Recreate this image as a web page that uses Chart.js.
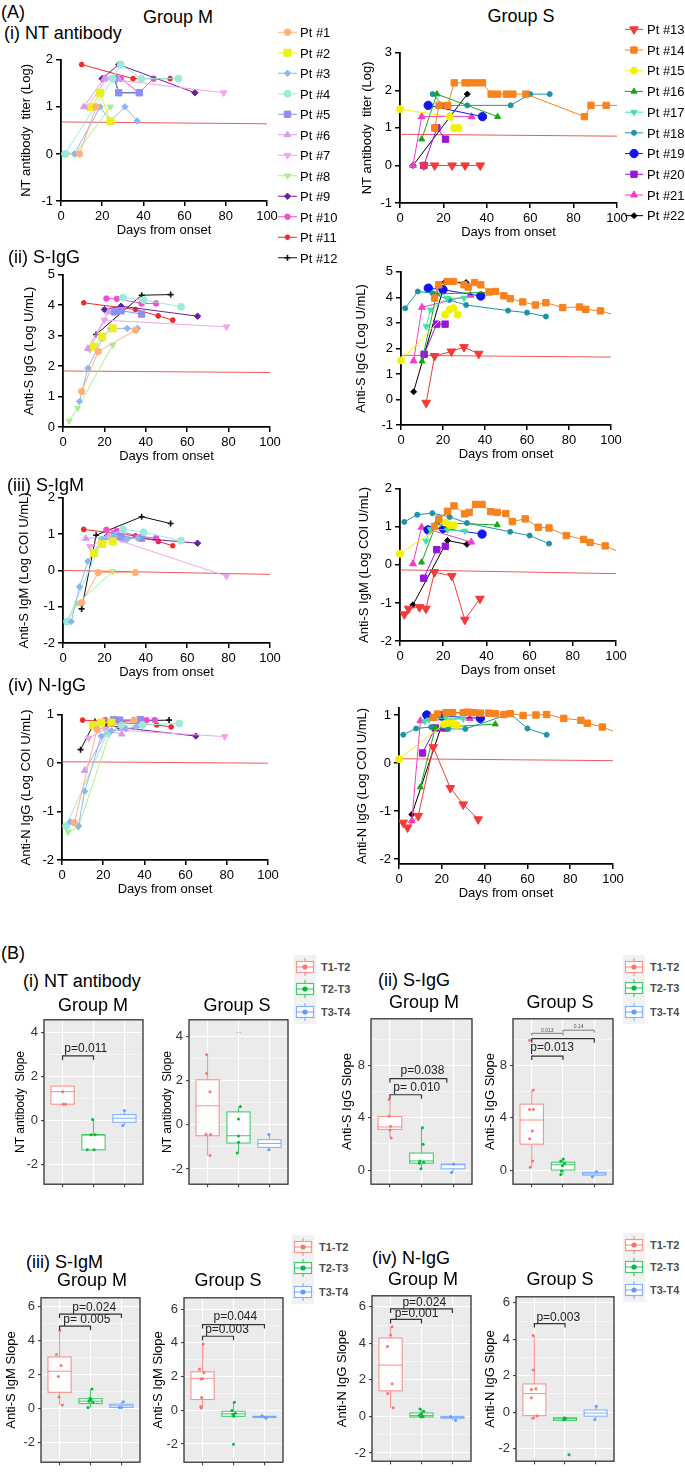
<!DOCTYPE html>
<html>
<head>
<meta charset="utf-8">
<title>Antibody kinetics, Group M / Group S</title>
<script src="https://cdn.jsdelivr.net/npm/chart.js@4.4.1/dist/chart.umd.min.js"></script>
<style>
  html, body { margin: 0; padding: 0; background: #fff; }
  #page { position: relative; width: 685px; height: 1475px; overflow: hidden;
          font-family: "Liberation Sans", Arial, Helvetica, sans-serif; color: #000; }
  .holder { position: absolute; }
  .txt { position: absolute; white-space: nowrap; line-height: 1; }
</style>
</head>
<body>
<div id="page"></div>
<script>
// ---------- (A) time courses: [day, value] per patient ----------
const namesM = ['Pt #1', 'Pt #2', 'Pt #3', 'Pt #4', 'Pt #5', 'Pt #6', 'Pt #7', 'Pt #8', 'Pt #9', 'Pt #10', 'Pt #11', 'Pt #12'];
const namesS = ['Pt #13', 'Pt #14', 'Pt #15', 'Pt #16', 'Pt #17', 'Pt #18', 'Pt #19', 'Pt #20', 'Pt #21', 'Pt #22'];

const ntM = [
  [[9, 0], [17, 1]],
  [[15, 1], [19, 1.3], [24, 0.7]],
  [[6.5, 0], [19, 1], [24, 0.7], [31, 1], [37, 0.7]],
  [[2, 0], [25, 1.6], [29, 1.9], [39, 1.6], [57, 1.6]],
  [[26, 1.6], [28, 1.3], [38, 1.3]],
  [[11, 1], [21, 1.6], [28, 1.6]],
  [[13, 1], [22, 1.6], [79, 1.3]],
  [[3, 0], [7, 0], [24, 1]],
  [[20, 1.6], [28, 1.9], [65, 1.3]],
  [[21, 1.6], [29, 1.6], [38, 1.3], [45, 1.6]],
  [[10, 1.9], [35, 1.6], [53, 1.6]],
  [[20, 1.6], [26, 1.6], [28, 1.3], [38, 1.3]]
];
const ntS = [
  [[11, 0], [16, 0], [24, 0], [30, 0], [37, 0]],
  [[16, 1], [18, 1.6], [22, 1.6], [25, 2.2], [30, 2.2], [32, 2.2], [35, 2.2], [38, 2.2], [42, 1.9], [45, 1.9], [49, 1.9], [52, 1.9], [58, 1.9], [85, 1.3], [88, 1.6], [95, 1.6], [105, 1.6]],
  [[0, 1.5], [23, 1.3], [25, 1], [27, 1]],
  [[10, 0.7], [17, 1.9], [45, 1.3]],
  [],
  [[15, 1.9], [20, 1.6], [31, 1.6], [51, 1.6], [60, 1.9], [69, 1.9]],
  [[13, 1.6], [38, 1.3]],
  [[11, 0], [17, 1], [21, 0.7]],
  [[6, 0], [10, 1.3], [33, 1.3]],
  [[6, 0], [31, 1.9]]
];
const sIgGM = [
  [[9, 1.17], [17, 2.48], [35, 3.18]],
  [[15, 2.64], [19, 2.97], [24, 3.24]],
  [[8, 0.84], [12, 1.93], [19, 2.91], [23, 3.24], [31, 3.24], [36, 3.24]],
  [[29, 4.25], [39, 4.17], [57, 3.95]],
  [[25, 3.78], [28, 3.82], [38, 3.71]],
  [[12, 2.58], [22, 3.78]],
  [[13, 2.55], [20, 3.51], [79, 3.29]],
  [[3, 0.2], [7, 0.62], [24, 2.69]],
  [[20, 3.86], [28, 3.97], [65, 3.64]],
  [[21, 4.22], [26, 4.21], [38, 4.06], [45, 4.06]],
  [[10, 4.08], [35, 3.86], [46, 3.65], [53, 3.51]],
  [[16, 3.04], [38, 4.33], [52, 4.35]]
];
const sIgGS = [
  [[12, -0.13], [16, 1.7], [24, 1.88], [30, 2.05], [37, 1.79]],
  [[16, 3.97], [18, 4.49], [22, 4.62], [25, 4.62], [30, 4.49], [32, 4.4], [35, 4.58], [38, 4.49], [42, 4.21], [45, 4.23], [49, 4.06], [52, 3.95], [58, 3.82], [64, 3.7], [69, 3.79], [77, 3.6], [85, 3.62], [88, 3.53], [95, 3.47], [104, 3.25]],
  [[0, 1.53], [21, 3.32], [23, 3.51], [25, 3.58], [27, 3.32]],
  [[10, 1.5], [17, 4.13], [45, 4.21]],
  [[12, 2.86], [14, 3.51], [22, 3.97], [30, 3.97]],
  [[2, 3.57], [8, 4.23], [15, 4.16], [23, 3.9], [31, 3.7], [51, 3.48], [60, 3.4], [69, 3.25]],
  [[13, 4.36], [20, 4.3], [38, 4.05]],
  [[11, 1.77], [17, 2.95], [21, 2.95]],
  [[6, 1.51], [10, 3.61], [33, 4.08]],
  [[6, 0.3], [21, 4.6], [31, 4.58]]
];
const sIgMM = [
  [[9, -0.89], [17, -0.06], [35, -0.06]],
  [[15, 0.48], [19, 0.73], [24, 0.8]],
  [[4, -1.41], [8, -0.45], [12, 0.25], [19, 0.86], [25, 0.95], [31, 0.86], [36, 0.89]],
  [[2, -1.41], [19, 0.85], [29, 1.13], [39, 1.05], [57, 0.82]],
  [[25, 0.98], [28, 0.93], [38, 0.89]],
  [[11, 0.88], [22, 0.93], [29, 0.84]],
  [[13, 0.66], [22, 0.92], [79, -0.16]],
  [[2, -1.41], [7, -0.91], [24, -0.03]],
  [[21, 0.93], [28, 0.93], [65, 0.75]],
  [[21, 1.12], [26, 1.09], [38, 0.93], [45, 0.89]],
  [[10, 1.13], [35, 0.95], [46, 0.8], [53, 0.68]],
  [[9, -1.06], [16, 0.97], [38, 1.48], [52, 1.29]]
];
const sIgMS = [
  [[2, -1.3], [4, -1.15], [9, -1.11], [12, -1.15], [16, -0.19], [24, -0.29], [30, -1.44], [37, -0.89]],
  [[16, 1.01], [18, 1.21], [22, 1.41], [25, 1.55], [30, 1.34], [32, 1.38], [35, 1.59], [38, 1.59], [42, 1.4], [45, 1.38], [49, 1.35], [52, 1.14], [58, 1.21], [64, 0.99], [69, 0.97], [77, 0.77], [85, 0.67], [88, 0.59], [95, 0.5], [104, 0.28]],
  [[0, 0.29], [21, 1.11], [23, 1.05], [25, 1.04]],
  [[10, 0.07], [17, 1.11], [45, 1.05]],
  [[12, 0.63], [14, 0.94], [22, 0.92], [30, 0.89]],
  [[2, 1.13], [8, 1.32], [15, 1.36], [23, 1.26], [31, 1.1], [51, 0.87], [60, 0.77], [69, 0.56]],
  [[13, 0.92], [20, 0.96], [38, 0.81]],
  [[11, -0.35], [17, 0.4], [21, 0.49]],
  [[6, 0.03], [10, 0.99], [33, 0.6]],
  [[6, -1.05], [22, 0.64], [31, 0.54]]
];
const nIgGM = [
  [[6, -1.23], [17, 0.7], [35, 0.89]],
  [[15, 0.79], [19, 0.84], [24, 0.84]],
  [[4, -1.21], [8, -1.3], [11, -0.58], [19, 0.56], [24, 0.67], [31, 0.71], [36, 0.75]],
  [[2, -1.3], [22, 0.62], [29, 0.78], [39, 0.79], [57, 0.82]],
  [[25, 0.9], [28, 0.89], [38, 0.9]],
  [[11, -0.15], [22, 0.67], [29, 0.6]],
  [[13, 0.52], [21, 0.7], [79, 0.55]],
  [[3, -1.42], [8, -1.32], [23, 0.6]],
  [[22, 0.78], [28, 0.74], [65, 0.56]],
  [[21, 0.89], [41, 0.89], [45, 0.89]],
  [[10, 0.89], [46, 0.79], [53, 0.75]],
  [[9, 0.28], [16, 0.86], [52, 0.89]]
];
const nIgGS = [
  [[2, -1.24], [4, -1.34], [9, -1.1], [16, 0.33], [24, -0.52], [30, -0.86], [37, -1.17]],
  [[16, 0.95], [18, 1.02], [22, 1.05], [25, 1.05], [30, 1.05], [32, 1.06], [35, 1.05], [38, 1.04], [42, 1.04], [45, 1.03], [49, 1.01], [52, 1.03], [58, 0.99], [64, 1.0], [69, 1.01], [77, 0.93], [85, 0.89], [88, 0.83], [95, 0.75], [104, 0.6]],
  [[0, 0.08], [21, 0.81], [23, 0.83], [25, 0.83], [27, 0.79]],
  [[10, -0.5], [17, 0.74], [45, 0.81]],
  [[12, 0.87], [14, 0.9], [22, 0.94], [30, 0.92]],
  [[2, 0.59], [8, 0.72], [15, 0.75], [23, 0.71], [31, 0.71], [52, 1.03], [60, 0.72], [69, 0.59]],
  [[13, 1.0], [20, 0.98], [38, 0.93]],
  [[11, 0.21], [17, 0.73], [21, 0.73]],
  [[6, -1.2], [10, 0.88], [33, 0.93]],
  [[6, -1.07], [22, 1.06], [31, 1.04]]
];

// cut-off lines: value at day 0 and day 100
const cutNT_M = [0.68, 0.64];
const cutNT_S = [0.83, 0.78];
const cutIgG_M = [1.84, 1.79];
const cutIgG_S = [1.73, 1.66];
const cutIgM_M = [0.0, -0.11];
const cutIgM_S = [-0.13, -0.23];
const cutN_M = [0.03, 0.0];
const cutN_S = [0.09, 0.05];

const dayTicks = [0, 20, 40, 60, 80, 100];
const ticksNT_M = [-1, 0, 1, 2];
const ticksNT_S = [-1, 0, 1, 2, 3];
const ticksIgG_M = [0, 1, 2, 3, 4, 5];
const ticksIgG_S = [-1, 0, 1, 2, 3, 4, 5];
const ticksIgM = [-2, -1, 0, 1, 2];
const ticksN = [-2, -1, 0, 1];

// ---------- (B) slopes ----------
const slopeGroups = ['T1-T2', 'T2-T3', 'T3-T4'];
// per interval: [whisker low, Q1, median, Q3, whisker high]
const statsNT_M = [[0.73, 0.73, 1.3, 1.55, 1.55], [-1.34, -1.34, -0.66, -0.66, 0.04], [-0.24, -0.09, 0.09, 0.26, 0.44]];
const statsNT_S = [[-1.39, -0.49, 0.87, 2.05, 3.19], [-1.27, -0.82, -0.49, 0.59, 0.84], [-1.13, -1.02, -0.84, -0.67, -0.44]];
const statsIgG_M = [[2.46, 3.11, 3.3, 4.1, 5.4], [0.1, 0.53, 0.7, 1.3, 3.23], [-0.19, 0.1, 0.41, 0.46, 0.46]];
const statsIgG_S = [[0.22, 1.98, 3.83, 5.04, 6.12], [-0.34, 0.0, 0.41, 0.6, 0.84], [-0.51, -0.39, -0.29, -0.19, -0.1]];
const statsIgM_M = [[0.22, 0.96, 2.2, 3.04, 4.6], [0.07, 0.3, 0.44, 0.59, 1.15], [0.07, 0.07, 0.17, 0.26, 0.41]];
const statsIgM_S = [[0.13, 0.64, 1.89, 2.28, 3.93], [-0.36, -0.36, -0.21, -0.06, 0.47], [-0.47, -0.43, -0.39, -0.36, -0.32]];
const statsN_M = [[0.48, 1.4, 2.81, 4.29, 4.9], [-0.03, -0.03, 0.05, 0.19, 0.41], [-0.21, -0.1, -0.05, 0.0, 0.0]];
const statsN_S = [[-0.38, -0.19, 1.02, 1.55, 4.21], [-0.45, -0.45, -0.36, -0.31, -0.31], [-0.41, -0.22, -0.05, 0.12, 0.33]];

// individual slopes: [horizontal jitter, value]
const dotsNT_M = [
  [[0, 1.3], [0.02, 0.73], [0.1, 0.73]],
  [[-0.03, 0.04], [-0.08, -0.66], [0.05, -0.66], [-0.2, -1.34], [0.02, -1.34]],
  [[0, 0.44], [-0.05, -0.24]]
];
const dotsNT_S = [
  [[-0.03, 3.19], [-0.03, 2.33], [0.08, 1.5], [-0.05, -0.44], [0.1, -0.44], [0.08, -1.39]],
  [[0.06, 0.84], [0, 0.27], [0, -0.5], [0, -0.79], [-0.04, -1.27]],
  [[-0.02, -0.44], [-0.02, -1.13]]
];
const dotsIgG_M = [
  [[-0.03, 5.4], [-0.03, 4.14], [0.02, 3.35], [0, 3.06], [0.04, 2.46]],
  [[0.03, 3.23], [0.05, 1.98], [-0.05, 0.7], [0.07, 0.6], [-0.07, 0.53], [-0.02, 0.1]],
  [[0.02, 0.46], [-0.05, -0.19]]
];
const dotsIgG_S = [
  [[0.05, 6.12], [-0.07, 4.63], [0.05, 4.63], [0.02, 2.99], [-0.07, 2.39], [0.03, 0.7], [-0.05, 0.22], [-0.07, 9.93]],
  [[0.01, 0.84], [-0.07, 0.7], [0.05, 0.53], [-0.02, 0.34], [-0.05, -0.07], [-0.07, -0.34]],
  [[0.07, -0.1], [-0.06, -0.51]]
];
const dotsIgM_M = [
  [[0.01, 4.6], [-0.1, 3.19], [0.05, 2.54], [-0.04, 1.89], [-0.02, 0.69], [0.09, 0.22]],
  [[0.05, 1.15], [-0.02, 0.59], [0.02, 0.52], [-0.05, 0.44], [0.08, 0.37], [-0.08, 0.07]],
  [[0.06, 0.41], [-0.07, 0.07], [0, 0.07]]
];
const dotsIgM_S = [
  [[0.02, 3.93], [-0.1, 2.43], [0.05, 2.22], [-0.05, 1.85], [0, 1.87], [-0.03, 0.75], [-0.06, 0.22], [-0.04, 0.13]],
  [[0.03, 0.47], [-0.05, -0.02], [0.06, -0.17], [-0.02, -0.24], [0.01, -0.36], [0, -2.02]],
  [[-0.08, -0.32], [0.05, -0.47]]
];
const dotsN_M = [
  [[0.05, 4.9], [0, 4.45], [-0.1, 3.83], [0.05, 1.79], [-0.09, 1.26], [0.08, 0.48]],
  [[-0.05, 0.41], [0.07, 0.28], [0, 0.14], [-0.07, 0.07], [0.05, 0.0], [-0.01, -0.03]],
  [[-0.06, 0.0], [0.1, -0.21]]
];
const dotsN_S = [
  [[-0.04, 4.21], [-0.04, 2.31], [-0.1, 1.24], [0.05, 1.29], [-0.1, 0.79], [0.09, -0.19], [-0.05, -0.34]],
  [[-0.02, -0.31], [0.02, -0.36], [-0.04, -0.41], [0.13, -2.34]],
  [[0.02, 0.33], [-0.03, -0.41]]
];

// significance brackets: [from, to, height, label, label x, label y]
const brkNT_M = [[1, 2, 2.92, 'p=0.011', 1.75, 3.23]];
const brkNT_S = [];
const brkIgG_M = [[1, 2, 5.76, 'p= 0.010', 1.85, 6.31], [1, 2.8, 6.99, 'p=0.038', 2.03, 7.57]];
const brkIgG_S = [[1, 2, 8.72, 'p=0.013', 1.65, 9.33], [1, 3, 10.05, '', 0, 0]];
const brkIgM_M = [[1, 2, 4.85, 'p= 0.005', 1.88, 5.22], [1, 3, 5.56, 'p=0.024', 2.12, 5.96]];
const brkIgM_S = [[1, 2, 4.39, 'p=0.003', 1.79, 4.8], [1, 3, 5.08, 'p=0.044', 2.06, 5.55]];
const brkN_M = [[1, 2, 5.31, 'p=0.001', 1.84, 5.62], [1, 3, 5.88, 'p=0.024', 2.09, 6.22]];
const brkN_S = [[1, 2, 4.86, 'p=0.003', 1.78, 5.17]];
const tinyIgG_S = [[1, 2, 10.46, '0.013', 1.5, 10.7], [2, 3, 10.7, '0.14', 2.5, 10.94]];
const tinyNT_S = [[2, 2, 4.19, '- -', 2.0, 4.19]];

// ---------- styles ----------
const stylesM = [
  { c: '#FDB07A', s: 'circle', r: 3.2, rot: 0 },
  { c: '#E9F01E', s: 'rect', r: 5, rot: 0 },
  { c: '#8CB6F2', s: 'rectRot', r: 3.2, rot: 0 },
  { c: '#9CEBDA', s: 'circle', r: 3.5, rot: 0 },
  { c: '#8E8EF2', s: 'rect', r: 4.5, rot: 0 },
  { c: '#D69BF2', s: 'triangle', r: 3.8, rot: 0 },
  { c: '#F4A4E8', s: 'triangle', r: 3.8, rot: 180 },
  { c: '#A6EE8E', s: 'triangle', r: 3.5, rot: 180 },
  { c: '#6B1F9E', s: 'rectRot', r: 3.2, rot: 0 },
  { c: '#EE50D2', s: 'circle', r: 2.8, rot: 0 },
  { c: '#EE2A2A', s: 'star', r: 2.8, rot: 0 },
  { c: '#111111', s: 'cross', r: 3, rot: 0 }
];
const stylesS = [
  { c: '#F23A3A', s: 'triangle', r: 5, rot: 180 },
  { c: '#F7821E', s: 'rect', r: 4.5, rot: 0 },
  { c: '#F2F200', s: 'circle', r: 3.5, rot: 0 },
  { c: '#16A816', s: 'triangle', r: 3.5, rot: 0 },
  { c: '#3FE3A6', s: 'triangle', r: 3.5, rot: 180 },
  { c: '#1E93A8', s: 'circle', r: 2.5, rot: 0 },
  { c: '#1414F0', s: 'circle', r: 4.2, rot: 0 },
  { c: '#9A14D9', s: 'rect', r: 4.5, rot: 0 },
  { c: '#F23DC4', s: 'triangle', r: 4, rot: 0 },
  { c: '#000000', s: 'rectRot', r: 3, rot: 0 }
];
const boxEdge = ['rgba(248,118,109,0.75)', 'rgba(0,186,56,0.7)', 'rgba(97,156,255,0.75)'];
const dotColor = ['#F8766D', '#00BA38', '#619CFF'];
const FONT = '"Liberation Sans", Arial, Helvetica, sans-serif';

Chart.defaults.font.family = FONT;
Chart.defaults.color = '#000';

const page = document.getElementById('page');

function text(str, x, y, size, centered, extra) {
  const el = document.createElement('div');
  el.className = 'txt';
  el.textContent = str;
  el.style.fontSize = size + 'px';
  el.style.left = x + 'px';
  el.style.top = y + 'px';
  el.style.transform = centered ? 'translate(-50%,-50%)' : 'translate(0,-50%)';
  if (extra) Object.assign(el.style, extra);
  page.appendChild(el);
  return el;
}

function holder(left, top, w, h) {
  const div = document.createElement('div');
  div.className = 'holder';
  div.style.left = left + 'px';
  div.style.top = top + 'px';
  div.style.width = w + 'px';
  div.style.height = h + 'px';
  const cv = document.createElement('canvas');
  div.appendChild(cv);
  page.appendChild(div);
  return cv;
}

function marker(ctx, st, x, y) {
  ctx.fillStyle = st.c;
  ctx.strokeStyle = st.c;
  ctx.lineWidth = (st.s === 'cross' || st.s === 'star') ? 1.6 : 1;
  if (Chart.helpers && Chart.helpers.drawPoint) {
    Chart.helpers.drawPoint(ctx, { pointStyle: st.s, radius: st.r, rotation: st.rot, borderWidth: ctx.lineWidth }, x, y);
  } else {
    ctx.beginPath(); ctx.arc(x, y, st.r, 0, Math.PI * 2); ctx.fill();
  }
}

// ---------- line charts ----------
function lineChart(spec) {
  const [L, T, R, B] = spec.area;
  const padT = 10, padR = 14, xH = 41;
  const cv = holder(L - spec.yW, T - padT, spec.yW + (R - L) + padR, padT + (B - T) + xH);
  const styles = spec.group === 'M' ? stylesM : stylesS;
  const names = spec.group === 'M' ? namesM : namesS;
  const datasets = [{
    label: 'cut-off',
    data: [{ x: 0, y: spec.cut[0] }, { x: 100, y: spec.cut[1] }],
    borderColor: 'rgba(236,60,60,0.85)', borderWidth: 1, pointRadius: 0, order: 99
  }];
  spec.series.forEach((pts, i) => {
    if (!pts.length) return;
    const st = styles[i];
    datasets.push({
      label: names[i],
      data: pts.map(p => ({ x: p[0], y: p[1] })),
      borderColor: st.c, backgroundColor: st.c, borderWidth: 1,
      pointStyle: st.s, pointRotation: st.rot, pointRadius: st.r, pointHoverRadius: st.r,
      pointBorderWidth: (st.s === 'cross' || st.s === 'star') ? 1.6 : 1,
      clip: { left: 8, top: 8, right: 0, bottom: 8 }
    });
  });
  new Chart(cv, {
    type: 'line',
    data: { datasets },
    options: {
      responsive: true, maintainAspectRatio: false, animation: false,
      layout: { padding: { top: padT, right: padR, left: 0, bottom: 0 } },
      plugins: { legend: { display: false }, tooltip: { enabled: false } },
      scales: {
        x: {
          type: 'linear', min: 0, max: 100,
          afterBuildTicks: s => { s.ticks = dayTicks.map(v => ({ value: v })); },
          ticks: { font: { size: 13 }, color: '#000', padding: 3, maxRotation: 0 },
          grid: { drawOnChartArea: false, tickLength: 5, color: '#000', lineWidth: 1.5 },
          border: { color: '#000', width: 1.8 },
          title: { display: true, text: 'Days from onset', font: { size: 13 }, color: '#000', padding: { top: 0, bottom: 4 } },
          afterFit: s => { s.height = xH; }
        },
        y: {
          type: 'linear', min: spec.y[0], max: spec.y[1],
          afterBuildTicks: s => { s.ticks = spec.yTicks.map(v => ({ value: v })); },
          ticks: { font: { size: 13 }, color: '#000', padding: 3 },
          grid: { drawOnChartArea: false, tickLength: 5, color: '#000', lineWidth: 1.5 },
          border: { color: '#000', width: 1.8 },
          title: { display: true, text: spec.title, font: { size: 13 }, color: '#000', padding: { top: 4, bottom: 0 } },
          afterFit: s => { s.width = spec.yW; }
        }
      }
    }
  });
}

const lineSpecs = [
  { series: ntM, cut: cutNT_M, group: 'M', area: [61, 59, 267, 201], y: [-1, 2], yTicks: ticksNT_M, yW: 46, title: 'NT antibody  titer (Log)' },
  { series: ntS, cut: cutNT_S, group: 'S', area: [400, 52, 617, 203], y: [-1, 3], yTicks: ticksNT_S, yW: 44, title: 'NT antibody  titer (Log)' },
  { series: sIgGM, cut: cutIgG_M, group: 'M', area: [63, 274, 270, 427], y: [0, 5], yTicks: ticksIgG_M, yW: 45, title: 'Anti-S IgG (Log U/mL)' },
  { series: sIgGS, cut: cutIgG_S, group: 'S', area: [401, 271, 611, 425], y: [-1, 5], yTicks: ticksIgG_S, yW: 51, title: 'Anti-S IgG (Log U/mL)' },
  { series: sIgMM, cut: cutIgM_M, group: 'M', area: [63, 497, 270, 643], y: [-2, 2], yTicks: ticksIgM, yW: 50, title: 'Anti-S IgM (Log COI U/mL)' },
  { series: sIgMS, cut: cutIgM_S, group: 'S', area: [400, 488, 616, 641], y: [-2, 2], yTicks: ticksIgM, yW: 47, title: 'Anti-S IgM (Log COI U/mL)' },
  { series: nIgGM, cut: cutN_M, group: 'M', area: [62, 714, 268, 860], y: [-2, 1], yTicks: ticksN, yW: 47, title: 'Anti-N IgG (Log COI U/mL)' },
  { series: nIgGS, cut: cutN_S, group: 'S', area: [399, 707, 613, 864], y: [-2.1, 1.15], yTicks: ticksN, yW: 48, title: 'Anti-N IgG (Log COI U/mL)' }
];
lineSpecs.forEach(lineChart);

// legends of (A)
function lineLegend(names, styles, left, top, step, x1, x2) {
  const cv = document.createElement('canvas');
  cv.width = 26; cv.height = Math.ceil(step * names.length + 10);
  cv.style.position = 'absolute';
  cv.style.left = left + 'px';
  cv.style.top = top + 'px';
  page.appendChild(cv);
  const ctx = cv.getContext('2d');
  names.forEach((n, i) => {
    const y = 5 + step / 2 + i * step;
    const st = styles[i];
    ctx.strokeStyle = st.c; ctx.lineWidth = 1;
    ctx.beginPath(); ctx.moveTo(x1, y); ctx.lineTo(x2, y); ctx.stroke();
    marker(ctx, st, (x1 + x2) / 2, y);
    text(n, left + 24, top + y, 13, false);
  });
}
lineLegend(namesM, stylesM, 276, 32 - 5 - 10.25, 20.5, 2, 21);
lineLegend(namesS, stylesS, 623, 29 - 5 - 10.35, 20.7, 2, 20);

// ---------- box plots ----------
function boxChart(spec) {
  const [L, T, R, B] = spec.area;
  const padT = 6, padR = 4, xH = 6;
  const cv = holder(L - spec.yW, T - padT, spec.yW + (R - L) + padR, padT + (B - T) + xH);
  const minor = spec.major / 2;
  const isMajor = v => Math.abs(v / spec.major - Math.round(v / spec.major)) < 1e-6;
  const yTicks = [];
  for (let v = Math.ceil(spec.y[0] / minor) * minor; v <= spec.y[1] + 1e-9; v += minor) yTicks.push(Math.round(v * 1e6) / 1e6);

  const datasets = spec.dots.map((grp, g) => ({
    label: slopeGroups[g],
    data: grp.map(d => ({ x: g + 1 + d[0], y: d[1] })),
    pointRadius: 1.5, pointHoverRadius: 1.5,
    pointBackgroundColor: dotColor[g], pointBorderWidth: 0, clip: false
  }));

  const boxPlugin = {
    id: 'boxes',
    beforeDraw(chart) {
      const { ctx, chartArea: a } = chart;
      ctx.save();
      ctx.fillStyle = '#EBEBEB';
      ctx.fillRect(a.left, a.top, a.right - a.left, a.bottom - a.top);
      ctx.restore();
    },
    beforeDatasetsDraw(chart) {
      const { ctx, scales: { x, y } } = chart;
      spec.stats.forEach((s, g) => {
        const cx = x.getPixelForValue(g + 1);
        const hw = x.getPixelForValue(g + 1.375) - cx;
        const [lo, q1, med, q3, hi] = s.map(v => y.getPixelForValue(v));
        ctx.save();
        ctx.strokeStyle = boxEdge[g];
        ctx.lineWidth = 1.1;
        ctx.beginPath();
        ctx.moveTo(cx, hi); ctx.lineTo(cx, q3);
        ctx.moveTo(cx, q1); ctx.lineTo(cx, lo);
        ctx.stroke();
        ctx.fillStyle = 'rgba(255,255,255,0.88)';
        ctx.fillRect(cx - hw, q3, 2 * hw, Math.max(q1 - q3, 1));
        ctx.strokeRect(cx - hw, q3, 2 * hw, Math.max(q1 - q3, 1));
        ctx.beginPath(); ctx.moveTo(cx - hw, med); ctx.lineTo(cx + hw, med); ctx.stroke();
        ctx.restore();
      });
    },
    afterDatasetsDraw(chart) {
      const { ctx, scales: { x, y } } = chart;
      const draw = (list, size, lw, drop) => list.forEach(b => {
        const [x1, x2, yv, label, tx, ty] = b;
        const p1 = x.getPixelForValue(x1), p2 = x.getPixelForValue(x2), py = y.getPixelForValue(yv);
        ctx.save();
        if (x1 !== x2) {
          ctx.strokeStyle = '#333'; ctx.lineWidth = lw;
          ctx.beginPath();
          ctx.moveTo(p1, py + drop); ctx.lineTo(p1, py); ctx.lineTo(p2, py); ctx.lineTo(p2, py + drop);
          ctx.stroke();
        }
        if (label) {
          ctx.font = size + 'px ' + FONT;
          ctx.fillStyle = size < 8 ? '#555' : '#222';
          ctx.textAlign = 'center'; ctx.textBaseline = 'middle';
          ctx.fillText(label, x.getPixelForValue(tx), y.getPixelForValue(ty));
        }
        ctx.restore();
      });
      draw(spec.brackets, 12, 1.2, 4);
      if (spec.tiny) draw(spec.tiny, 5, 0.6, 2.5);
    },
    afterDraw(chart) {
      const { ctx, chartArea: a } = chart;
      ctx.save();
      ctx.strokeStyle = '#333'; ctx.lineWidth = 1.3;
      ctx.strokeRect(a.left, a.top, a.right - a.left, a.bottom - a.top);
      ctx.restore();
    }
  };

  new Chart(cv, {
    type: 'scatter',
    data: { datasets },
    options: {
      responsive: true, maintainAspectRatio: false, animation: false,
      layout: { padding: { top: padT, right: padR, left: 0, bottom: 0 } },
      plugins: { legend: { display: false }, tooltip: { enabled: false } },
      scales: {
        x: {
          type: 'linear', min: 0.4, max: 3.6,
          afterBuildTicks: s => { s.ticks = [1, 2, 3].map(v => ({ value: v })); },
          ticks: { callback: () => '', padding: 0 },
          grid: { color: '#fff', lineWidth: 1.1, tickLength: 3, tickColor: '#444' },
          border: { display: false },
          afterFit: s => { s.height = xH; }
        },
        y: {
          type: 'linear', min: spec.y[0], max: spec.y[1],
          afterBuildTicks: s => { s.ticks = yTicks.map(v => ({ value: v })); },
          ticks: { callback: v => isMajor(v) ? String(v) : '', font: { size: 13 }, color: '#333', padding: 3 },
          grid: {
            color: '#fff',
            lineWidth: c => isMajor(c.tick.value) ? 1.1 : 0.5,
            tickLength: 3,
            tickColor: c => isMajor(c.tick.value) ? '#444' : 'rgba(0,0,0,0)'
          },
          border: { display: false },
          title: { display: true, text: spec.title, font: { size: spec.tsize }, color: '#000', padding: { top: 4, bottom: 0 } },
          afterFit: s => { s.width = spec.yW; }
        }
      }
    },
    plugins: [boxPlugin]
  });
}

const boxSpecs = [
  { area: [44, 1015, 143, 1189], y: [-2.9, 4.56], major: 2, yW: 35, title: 'NT antibody  Slope', tsize: 12, stats: statsNT_M, dots: dotsNT_M, brackets: brkNT_M },
  { area: [189, 1015, 288, 1189], y: [-2.69, 4.77], major: 2, yW: 33, title: 'NT antibody  Slope', tsize: 12, stats: statsNT_S, dots: dotsNT_S, brackets: brkNT_S, tiny: tinyNT_S },
  { area: [371, 1014, 472, 1189], y: [-1.08, 11.57], major: 4, yW: 35, title: 'Anti-S IgG Slope', tsize: 13, stats: statsIgG_M, dots: dotsIgG_M, brackets: brkIgG_M },
  { area: [513, 1014, 613, 1189], y: [-1.08, 11.57], major: 4, yW: 34, title: 'Anti-S IgG Slope', tsize: 13, stats: statsIgG_S, dots: dotsIgG_S, brackets: brkIgG_S, tiny: tinyIgG_S },
  { area: [41, 1293, 140, 1467], y: [-3.15, 6.52], major: 2, yW: 41, title: 'Anti-S IgM Slope', tsize: 13, stats: statsIgM_M, dots: dotsIgM_M, brackets: brkIgM_M },
  { area: [184, 1293, 283, 1467], y: [-3.08, 6.67], major: 2, yW: 37, title: 'Anti-S IgM Slope', tsize: 13, stats: statsIgM_S, dots: dotsIgM_S, brackets: brkIgM_S },
  { area: [372, 1291, 471, 1466], y: [-2.45, 6.6], major: 2, yW: 41, title: 'Anti-N IgG Slope', tsize: 13, stats: statsN_M, dots: dotsN_M, brackets: brkN_M },
  { area: [516, 1292, 614, 1466], y: [-2.69, 6.33], major: 2, yW: 37, title: 'Anti-N IgG Slope', tsize: 13, stats: statsN_S, dots: dotsN_S, brackets: brkN_S }
];
boxSpecs.forEach(boxChart);

// legends of (B)
function boxLegend(left, rows) {
  const top = rows[0] - 12;
  const h = rows[2] - rows[0] + 24;
  const cv = document.createElement('canvas');
  cv.width = 22; cv.height = h;
  cv.style.position = 'absolute';
  cv.style.left = left + 'px';
  cv.style.top = top + 'px';
  page.appendChild(cv);
  const ctx = cv.getContext('2d');
  ctx.fillStyle = '#F2F2F2';
  ctx.fillRect(0, 0, 22, h);
  rows.forEach((ry, g) => {
    const y = ry - top;
    ctx.strokeStyle = boxEdge[g]; ctx.lineWidth = 1.2;
    ctx.beginPath(); ctx.moveTo(11, y - 9); ctx.lineTo(11, y + 9); ctx.stroke();
    ctx.fillStyle = '#fff';
    ctx.fillRect(2.5, y - 5.5, 17, 11);
    ctx.strokeRect(2.5, y - 5.5, 17, 11);
    ctx.beginPath(); ctx.moveTo(2.5, y); ctx.lineTo(19.5, y); ctx.stroke();
    ctx.fillStyle = dotColor[g];
    ctx.beginPath(); ctx.arc(11, y, 2.6, 0, Math.PI * 2); ctx.fill();
    text(slopeGroups[g], left + 27, ry, 11, false, { fontWeight: 'bold', color: '#4d4d4d' });
  });
}
boxLegend(294, [967, 989, 1012]);
boxLegend(623, [967, 988, 1012]);
boxLegend(292, [1247, 1268, 1292]);
boxLegend(623, [1245, 1267, 1290]);

// ---------- headings ----------
text('(A)', 1, 12, 18, false);
text('Group M', 178, 17, 18, true);
text('Group S', 521, 16, 18, true);
text('(i) NT antibody', 4, 33, 18, false);
text('(ii) S-IgG', 8, 257, 18, false);
text('(iii) S-IgM', 7, 485, 18, false);
text('(iv) N-IgG', 8, 685, 18, false);

text('(B)', 1, 953, 18, false);
text('(i) NT antibody', 23, 981, 18, false);
text('Group M', 93, 1005, 18, true);
text('Group S', 237, 1005, 18, true);
text('(ii) S-IgG', 378, 980, 18, false);
text('Group M', 424, 1002, 18, true);
text('Group S', 560, 1002, 18, true);
text('(iii) S-IgM', 26, 1262, 18, false);
text('Group M', 92, 1280, 18, true);
text('Group S', 228, 1280, 18, true);
text('(iv) N-IgG', 372, 1258, 18, false);
text('Group M', 423, 1279, 18, true);
text('Group S', 560, 1279, 18, true);
</script>
</body>
</html>
